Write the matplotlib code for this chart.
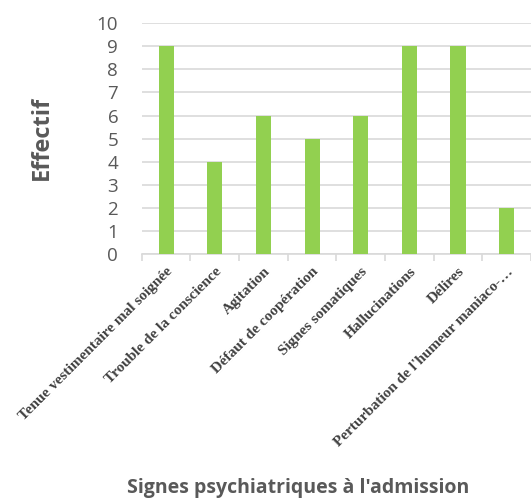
import matplotlib
matplotlib.use("Agg")
import matplotlib.pyplot as plt
import numpy as np

categories = ["Tenue vestimentaire mal soignée", "Trouble de la conscience",
              "Agitation", "Défaut de coopération", "Signes somatiques",
              "Hallucinations", "Délires", "Perturbation de l'humeur maniaco-…"]
effectif = [9, 4, 6, 5, 6, 9, 9, 2]
yticks = list(range(0, 11))

fig = plt.figure(figsize=(5.31, 5.04), dpi=100)
ax = fig.add_axes([0.267, 0.496, 0.733, 0.458])

x = np.arange(len(categories))
ax.bar(x, effectif, width=0.31, color="#92d050", zorder=3)

ax.set_xlim(-0.5, len(categories) - 0.5)
ax.set_ylim(0, 10)
ax.set_yticks(yticks)
ax.yaxis.grid(True, color="#d9d9d9", linewidth=1.2, zorder=0)
for s in ["top", "right", "left"]:
    ax.spines[s].set_visible(False)
ax.spines["bottom"].set_color("#d9d9d9")
ax.spines["bottom"].set_linewidth(1.2)
ax.tick_params(axis="y", length=0, labelsize=13.5, labelcolor="#595959", pad=17)
for t in ax.get_yticklabels():
    t.set_fontfamily("Open Sans")

ax.set_xticks(x)
ax.set_xticklabels(categories, rotation=45, ha="right", rotation_mode="anchor",
                   fontfamily="Liberation Serif", fontweight="bold",
                   fontsize=11, color="#404040")
ax.tick_params(axis="x", which="major", length=0, pad=8)
ax.set_xticks(np.arange(-0.5, len(categories), 1.0), minor=True)
ax.tick_params(axis="x", which="minor", length=5, color="#d9d9d9", width=1.2)

fig.text(0.079, 0.726, "Effectif", rotation=90, ha="center", va="center",
         fontsize=17, fontweight="bold", color="#595959", fontfamily="Open Sans")
fig.text(0.561, 0.032, "Signes psychiatriques à l'admission", ha="center", va="center",
         fontsize=14, fontweight="bold", color="#595959", fontfamily="Open Sans")

fig.savefig("out.png", dpi=100)
